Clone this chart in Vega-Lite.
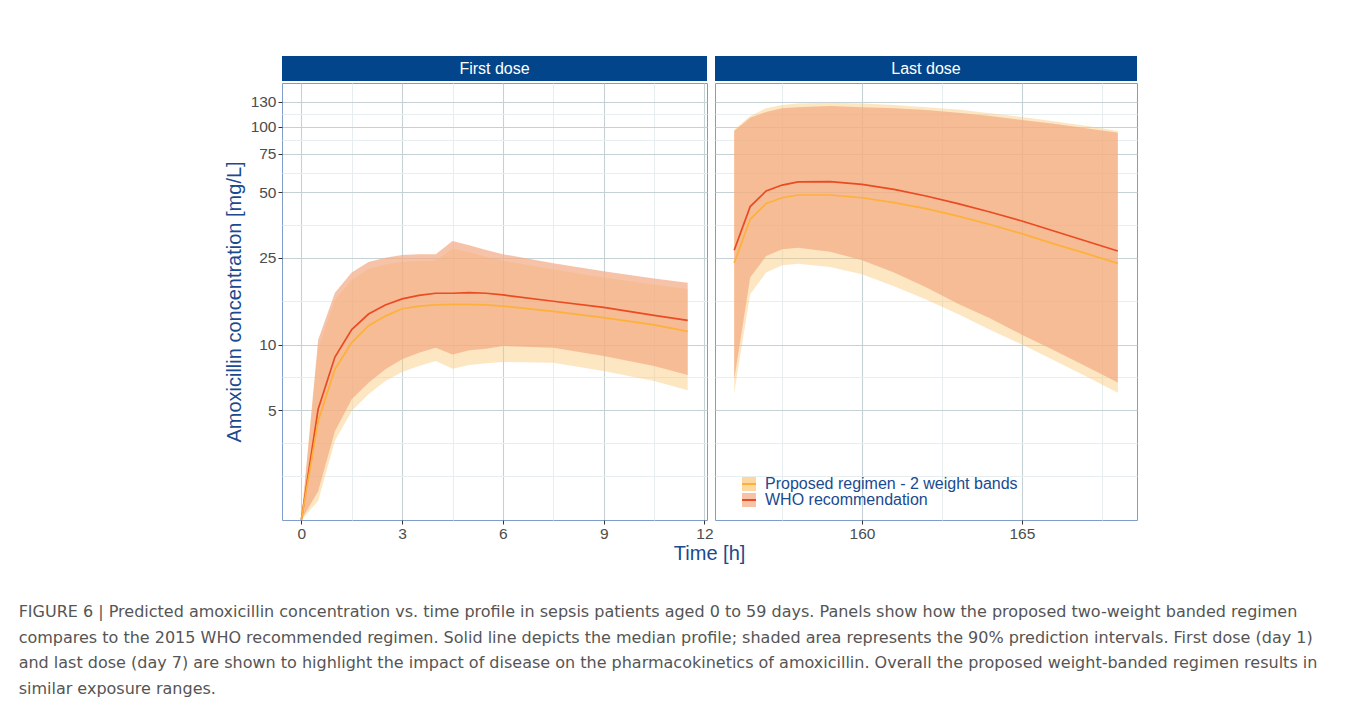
{
  "$schema": "https://vega.github.io/schema/vega-lite/v6.json",
  "background": "white",
  "padding": {"left": 18, "top": 56, "right": 5, "bottom": 5},
  "config": {
    "font": "Liberation Sans",
    "view": {"stroke": null},
    "axis": {
      "labelFont": "Liberation Sans",
      "labelFontSize": 15.5,
      "labelColor": "#4d4d4d",
      "tickSize": 4,
      "tickWidth": 1,
      "labelPadding": 2,
      "domain": false,
      "labelFlush": false,
      "labelOverlap": false,
      "gridWidth": 1.1,
      "titleFont": "Liberation Sans",
      "titleFontSize": 20,
      "titleFontWeight": "normal",
      "titleColor": "#1a4a8f"
    },
    "legend": {
      "labelFont": "Liberation Sans"
    }
  },
  "datasets": {
    "pk": [
      {"dose": "First dose", "regimen": "WHO recommendation", "t": 0, "median": 1.563, "lo": 1.563, "hi": 1.563},
      {"dose": "First dose", "regimen": "WHO recommendation", "t": 0.5, "median": 5.04, "lo": 2.12, "hi": 10.5},
      {"dose": "First dose", "regimen": "WHO recommendation", "t": 1, "median": 8.76, "lo": 4.0, "hi": 17.3},
      {"dose": "First dose", "regimen": "WHO recommendation", "t": 1.5, "median": 11.7, "lo": 5.61, "hi": 21.4},
      {"dose": "First dose", "regimen": "WHO recommendation", "t": 2, "median": 13.8, "lo": 6.67, "hi": 23.9},
      {"dose": "First dose", "regimen": "WHO recommendation", "t": 2.5, "median": 15.2, "lo": 7.69, "hi": 25.0},
      {"dose": "First dose", "regimen": "WHO recommendation", "t": 3, "median": 16.2, "lo": 8.55, "hi": 25.8},
      {"dose": "First dose", "regimen": "WHO recommendation", "t": 3.5, "median": 16.8, "lo": 9.17, "hi": 26.0},
      {"dose": "First dose", "regimen": "WHO recommendation", "t": 4, "median": 17.2, "lo": 9.67, "hi": 26.0},
      {"dose": "First dose", "regimen": "WHO recommendation", "t": 4.5, "median": 17.2, "lo": 9.0, "hi": 29.9},
      {"dose": "First dose", "regimen": "WHO recommendation", "t": 5, "median": 17.3, "lo": 9.4, "hi": 28.6},
      {"dose": "First dose", "regimen": "WHO recommendation", "t": 5.5, "median": 17.2, "lo": 9.56, "hi": 27.2},
      {"dose": "First dose", "regimen": "WHO recommendation", "t": 6, "median": 16.9, "lo": 9.84, "hi": 26.0},
      {"dose": "First dose", "regimen": "WHO recommendation", "t": 7.5, "median": 15.8, "lo": 9.67, "hi": 23.6},
      {"dose": "First dose", "regimen": "WHO recommendation", "t": 9, "median": 14.8, "lo": 8.86, "hi": 21.7},
      {"dose": "First dose", "regimen": "WHO recommendation", "t": 10.5, "median": 13.6, "lo": 7.97, "hi": 20.1},
      {"dose": "First dose", "regimen": "WHO recommendation", "t": 11.5, "median": 12.9, "lo": 7.24, "hi": 19.2},
      {"dose": "First dose", "regimen": "Proposed regimen - 2 weight bands", "t": 0, "median": 1.563, "lo": 1.563, "hi": 1.563},
      {"dose": "First dose", "regimen": "Proposed regimen - 2 weight bands", "t": 0.5, "median": 4.45, "lo": 1.91, "hi": 9.6},
      {"dose": "First dose", "regimen": "Proposed regimen - 2 weight bands", "t": 1, "median": 7.7, "lo": 3.61, "hi": 16.0},
      {"dose": "First dose", "regimen": "Proposed regimen - 2 weight bands", "t": 1.5, "median": 10.2, "lo": 4.95, "hi": 19.8},
      {"dose": "First dose", "regimen": "Proposed regimen - 2 weight bands", "t": 2, "median": 12.2, "lo": 5.91, "hi": 22.2},
      {"dose": "First dose", "regimen": "Proposed regimen - 2 weight bands", "t": 2.5, "median": 13.5, "lo": 6.8, "hi": 23.3},
      {"dose": "First dose", "regimen": "Proposed regimen - 2 weight bands", "t": 3, "median": 14.6, "lo": 7.48, "hi": 24.0},
      {"dose": "First dose", "regimen": "Proposed regimen - 2 weight bands", "t": 3.5, "median": 15.0, "lo": 7.97, "hi": 24.2},
      {"dose": "First dose", "regimen": "Proposed regimen - 2 weight bands", "t": 4, "median": 15.2, "lo": 8.4, "hi": 24.3},
      {"dose": "First dose", "regimen": "Proposed regimen - 2 weight bands", "t": 4.5, "median": 15.3, "lo": 7.74, "hi": 27.5},
      {"dose": "First dose", "regimen": "Proposed regimen - 2 weight bands", "t": 5, "median": 15.3, "lo": 8.05, "hi": 26.5},
      {"dose": "First dose", "regimen": "Proposed regimen - 2 weight bands", "t": 5.5, "median": 15.2, "lo": 8.2, "hi": 25.3},
      {"dose": "First dose", "regimen": "Proposed regimen - 2 weight bands", "t": 6, "median": 15.0, "lo": 8.31, "hi": 24.3},
      {"dose": "First dose", "regimen": "Proposed regimen - 2 weight bands", "t": 7.5, "median": 14.2, "lo": 8.25, "hi": 22.1},
      {"dose": "First dose", "regimen": "Proposed regimen - 2 weight bands", "t": 9, "median": 13.3, "lo": 7.55, "hi": 20.3},
      {"dose": "First dose", "regimen": "Proposed regimen - 2 weight bands", "t": 10.5, "median": 12.3, "lo": 6.8, "hi": 18.8},
      {"dose": "First dose", "regimen": "Proposed regimen - 2 weight bands", "t": 11.5, "median": 11.5, "lo": 6.16, "hi": 18.0},
      {"dose": "Last dose", "regimen": "WHO recommendation", "t": 156, "median": 27.1, "lo": 6.9, "hi": 95.6},
      {"dose": "Last dose", "regimen": "WHO recommendation", "t": 156.5, "median": 43.0, "lo": 20.3, "hi": 110},
      {"dose": "Last dose", "regimen": "WHO recommendation", "t": 157, "median": 50.7, "lo": 25.5, "hi": 117},
      {"dose": "Last dose", "regimen": "WHO recommendation", "t": 157.5, "median": 54.0, "lo": 27.4, "hi": 121.6},
      {"dose": "Last dose", "regimen": "WHO recommendation", "t": 158, "median": 55.8, "lo": 27.8, "hi": 123},
      {"dose": "Last dose", "regimen": "WHO recommendation", "t": 159, "median": 56.0, "lo": 26.7, "hi": 124.6},
      {"dose": "Last dose", "regimen": "WHO recommendation", "t": 160, "median": 54.4, "lo": 24.4, "hi": 123},
      {"dose": "Last dose", "regimen": "WHO recommendation", "t": 161, "median": 51.6, "lo": 21.4, "hi": 121.6},
      {"dose": "Last dose", "regimen": "WHO recommendation", "t": 162, "median": 48.1, "lo": 18.3, "hi": 119.4},
      {"dose": "Last dose", "regimen": "WHO recommendation", "t": 163, "median": 44.4, "lo": 15.4, "hi": 116.1},
      {"dose": "Last dose", "regimen": "WHO recommendation", "t": 164, "median": 40.6, "lo": 13.2, "hi": 112},
      {"dose": "Last dose", "regimen": "WHO recommendation", "t": 165, "median": 36.9, "lo": 11.1, "hi": 107.5},
      {"dose": "Last dose", "regimen": "WHO recommendation", "t": 166, "median": 33.2, "lo": 9.4, "hi": 103.3},
      {"dose": "Last dose", "regimen": "WHO recommendation", "t": 167, "median": 29.9, "lo": 7.95, "hi": 98.4},
      {"dose": "Last dose", "regimen": "WHO recommendation", "t": 168, "median": 26.9, "lo": 6.7, "hi": 94.0},
      {"dose": "Last dose", "regimen": "Proposed regimen - 2 weight bands", "t": 156, "median": 23.7, "lo": 6.0, "hi": 97},
      {"dose": "Last dose", "regimen": "Proposed regimen - 2 weight bands", "t": 156.5, "median": 37.6, "lo": 17.0, "hi": 112},
      {"dose": "Last dose", "regimen": "Proposed regimen - 2 weight bands", "t": 157, "median": 44.4, "lo": 21.4, "hi": 121.6},
      {"dose": "Last dose", "regimen": "Proposed regimen - 2 weight bands", "t": 157.5, "median": 47.2, "lo": 23.1, "hi": 126},
      {"dose": "Last dose", "regimen": "Proposed regimen - 2 weight bands", "t": 158, "median": 48.6, "lo": 23.5, "hi": 128},
      {"dose": "Last dose", "regimen": "Proposed regimen - 2 weight bands", "t": 159, "median": 48.6, "lo": 22.7, "hi": 129},
      {"dose": "Last dose", "regimen": "Proposed regimen - 2 weight bands", "t": 160, "median": 47.2, "lo": 21.0, "hi": 128},
      {"dose": "Last dose", "regimen": "Proposed regimen - 2 weight bands", "t": 161, "median": 44.8, "lo": 18.5, "hi": 126},
      {"dose": "Last dose", "regimen": "Proposed regimen - 2 weight bands", "t": 162, "median": 42.1, "lo": 16.1, "hi": 123},
      {"dose": "Last dose", "regimen": "Proposed regimen - 2 weight bands", "t": 163, "median": 38.9, "lo": 13.8, "hi": 120},
      {"dose": "Last dose", "regimen": "Proposed regimen - 2 weight bands", "t": 164, "median": 35.6, "lo": 11.7, "hi": 115.5},
      {"dose": "Last dose", "regimen": "Proposed regimen - 2 weight bands", "t": 165, "median": 32.3, "lo": 10.0, "hi": 111},
      {"dose": "Last dose", "regimen": "Proposed regimen - 2 weight bands", "t": 166, "median": 29.0, "lo": 8.46, "hi": 106},
      {"dose": "Last dose", "regimen": "Proposed regimen - 2 weight bands", "t": 167, "median": 26.2, "lo": 7.15, "hi": 101},
      {"dose": "Last dose", "regimen": "Proposed regimen - 2 weight bands", "t": 168, "median": 23.6, "lo": 6.0, "hi": 95.6}
    ]
  },
  "title": {
    "text": [
      "FIGURE 6 | Predicted amoxicillin concentration vs. time profile in sepsis patients aged 0 to 59 days. Panels show how the proposed two-weight banded regimen",
      "compares to the 2015 WHO recommended regimen. Solid line depicts the median profile; shaded area represents the 90% prediction intervals. First dose (day 1)",
      "and last dose (day 7) are shown to highlight the impact of disease on the pharmacokinetics of amoxicillin. Overall the proposed weight-banded regimen results in",
      "similar exposure ranges."
    ],
    "orient": "bottom",
    "anchor": "start",
    "font": "DejaVu Sans",
    "fontSize": 16,
    "fontWeight": "normal",
    "color": "#555555",
    "lineHeight": 25.6,
    "offset": 40,
    "dx": -205
  },
  "resolve": {"legend": {"fill": "independent", "stroke": "independent"}},
  "vconcat": [
    {
      "title": {
        "text": "Time [h]",
        "orient": "bottom",
        "anchor": "middle",
        "font": "Liberation Sans",
        "fontSize": 20,
        "fontWeight": "normal",
        "color": "#1a4a8f",
        "offset": 2,
        "dx": 29
      },
      "spacing": 0,
      "resolve": {"legend": {"fill": "independent", "stroke": "independent"}},
      "hconcat": [
        {
          "spacing": 1,
          "resolve": {"legend": {"fill": "independent", "stroke": "independent"}},
          "vconcat": [
            {
              "width": 425,
              "height": 25,
              "view": {"fill": "#03458a", "stroke": null},
              "data": {"values": [{"panel": "First dose"}]},
              "mark": {"type": "text", "color": "white", "fontSize": 16, "font": "Liberation Sans"},
              "encoding": {"text": {"field": "panel", "type": "nominal"}}
            },
            {
              "width": 425,
              "height": 437,
              "view": {"stroke": "#7f9dca", "strokeWidth": 1},
              "data": {"name": "pk"},
              "transform": [{"filter": "datum.dose === 'First dose'"}],
              "encoding": {
                "x": {
                  "field": "t",
                  "type": "quantitative",
                  "scale": {"domain": [-0.575, 12.075], "nice": false, "zero": false},
                  "axis": {
                    "title": null,
                    "values": [0, 1.5, 3, 4.5, 6, 7.5, 9, 10.5, 12],
                    "labelExpr": "datum.value % 3 === 0 ? format(datum.value, 'd') : ''",
                    "gridColor": {"condition": {"test": "datum.value % 3 === 0", "value": "#c6d1d5"}, "value": "#e6eef0"},
                    "tickColor": {"condition": {"test": "datum.value % 3 === 0", "value": "#333333"}, "value": "transparent"}
                  }
                }
              },
              "layer": [
                {
                  "transform": [{"filter": "datum.regimen === 'Proposed regimen - 2 weight bands'"}],
                  "mark": {"type": "area", "opacity": 0.45},
                  "encoding": {
                    "y": {
                      "field": "lo",
                      "type": "quantitative",
                      "scale": {"type": "log", "domain": [1.563, 158.9], "nice": false},
                      "axis": {
                        "title": "Amoxicillin concentration [mg/L]",
                        "values": [2.5, 3.5355, 5, 7.0711, 10, 15.811, 25, 35.355, 50, 61.237, 75, 86.603, 100, 114.02, 130],
                        "labelExpr": "indexof([5,10,25,50,75,100,130], datum.value) >= 0 ? format(datum.value, 'd') : ''",
                        "gridColor": {"condition": {"test": "indexof([5,10,25,50,75,100,130], datum.value) >= 0", "value": "#c6d1d5"}, "value": "#e6eef0"},
                        "tickColor": {"condition": {"test": "indexof([5,10,25,50,75,100,130], datum.value) >= 0", "value": "#333333"}, "value": "transparent"},
                        "titlePadding": 6
                      }
                    },
                    "y2": {"field": "hi"},
                    "fill": {
                      "field": "regimen",
                      "type": "nominal",
                      "scale": {"domain": ["Proposed regimen - 2 weight bands", "WHO recommendation"], "range": ["#fbc777", "#f2a983"]},
                      "legend": null
                    }
                  }
                },
                {
                  "transform": [{"filter": "datum.regimen === 'WHO recommendation'"}],
                  "mark": {"type": "area", "opacity": 0.7},
                  "encoding": {
                    "y": {"field": "lo", "type": "quantitative"},
                    "y2": {"field": "hi"},
                    "fill": {"field": "regimen", "type": "nominal", "legend": null}
                  }
                },
                {
                  "mark": {"type": "line", "strokeWidth": 1.7},
                  "encoding": {
                    "y": {"field": "median", "type": "quantitative"},
                    "stroke": {
                      "field": "regimen",
                      "type": "nominal",
                      "scale": {"range": ["#fdb13a", "#ea4b22"]},
                      "legend": null
                    }
                  }
                }
              ]
            }
          ]
        },
        {
          "spacing": 1,
          "resolve": {"legend": {"fill": "independent", "stroke": "independent"}},
          "vconcat": [
            {
              "width": 422,
              "height": 25,
              "view": {"fill": "#03458a", "stroke": null},
              "data": {"values": [{"panel": "Last dose"}]},
              "mark": {"type": "text", "color": "white", "fontSize": 16, "font": "Liberation Sans"},
              "encoding": {"text": {"field": "panel", "type": "nominal"}}
            },
            {
              "width": 422,
              "height": 437,
              "view": {"stroke": "#7f9dca", "strokeWidth": 1},
              "data": {"name": "pk"},
              "transform": [{"filter": "datum.dose === 'Last dose'"}],
              "encoding": {
                "x": {
                  "field": "t",
                  "type": "quantitative",
                  "scale": {"domain": [155.4, 168.6], "nice": false, "zero": false},
                  "axis": {
                    "title": null,
                    "values": [157.5, 160, 162.5, 165, 167.5],
                    "labelExpr": "datum.value % 5 === 0 ? format(datum.value, 'd') : ''",
                    "gridColor": {"condition": {"test": "datum.value % 5 === 0", "value": "#c6d1d5"}, "value": "#e6eef0"},
                    "tickColor": {"condition": {"test": "datum.value % 5 === 0", "value": "#333333"}, "value": "transparent"}
                  }
                }
              },
              "layer": [
                {
                  "transform": [{"filter": "datum.regimen === 'Proposed regimen - 2 weight bands'"}],
                  "mark": {"type": "area", "opacity": 0.45},
                  "encoding": {
                    "y": {
                      "field": "lo",
                      "type": "quantitative",
                      "scale": {"type": "log", "domain": [1.563, 158.9], "nice": false},
                      "axis": {
                        "title": null,
                        "labels": false,
                        "ticks": false,
                        "minExtent": 0,
                        "values": [2.5, 3.5355, 5, 7.0711, 10, 15.811, 25, 35.355, 50, 61.237, 75, 86.603, 100, 114.02, 130],
                        "gridColor": {"condition": {"test": "indexof([5,10,25,50,75,100,130], datum.value) >= 0", "value": "#c6d1d5"}, "value": "#e6eef0"}
                      }
                    },
                    "y2": {"field": "hi"},
                    "fill": {
                      "field": "regimen",
                      "type": "nominal",
                      "scale": {"domain": ["Proposed regimen - 2 weight bands", "WHO recommendation"], "range": ["#fbc777", "#f2a983"]},
                      "legend": {
                        "orient": "none",
                        "legendX": 26,
                        "legendY": 393,
                        "title": null,
                        "symbolType": "square",
                        "symbolSize": 196,
                        "symbolOpacity": 0.7,
                        "symbolStrokeWidth": 0,
                        "labelFontSize": 16,
                        "labelColor": "#1a4a8f",
                        "labelOffset": 8,
                        "labelLimit": 400,
                        "rowPadding": 0
                      }
                    }
                  }
                },
                {
                  "transform": [{"filter": "datum.regimen === 'WHO recommendation'"}],
                  "mark": {"type": "area", "opacity": 0.7},
                  "encoding": {
                    "y": {"field": "lo", "type": "quantitative"},
                    "y2": {"field": "hi"},
                    "fill": {"field": "regimen", "type": "nominal"}
                  }
                },
                {
                  "mark": {"type": "line", "strokeWidth": 1.7},
                  "encoding": {
                    "y": {"field": "median", "type": "quantitative"},
                    "stroke": {
                      "field": "regimen",
                      "type": "nominal",
                      "scale": {"range": ["#fdb13a", "#ea4b22"]},
                      "legend": {
                        "orient": "none",
                        "legendX": 26,
                        "legendY": 393,
                        "title": null,
                        "symbolType": "stroke",
                        "symbolSize": 196,
                        "symbolStrokeWidth": 2,
                        "labelFontSize": 16,
                        "labelColor": "#1a4a8f",
                        "labelOpacity": 0,
                        "labelOffset": 8,
                        "labelLimit": 400,
                        "rowPadding": 0
                      }
                    }
                  }
                }
              ]
            }
          ]
        }
      ]
    }
  ]
}
